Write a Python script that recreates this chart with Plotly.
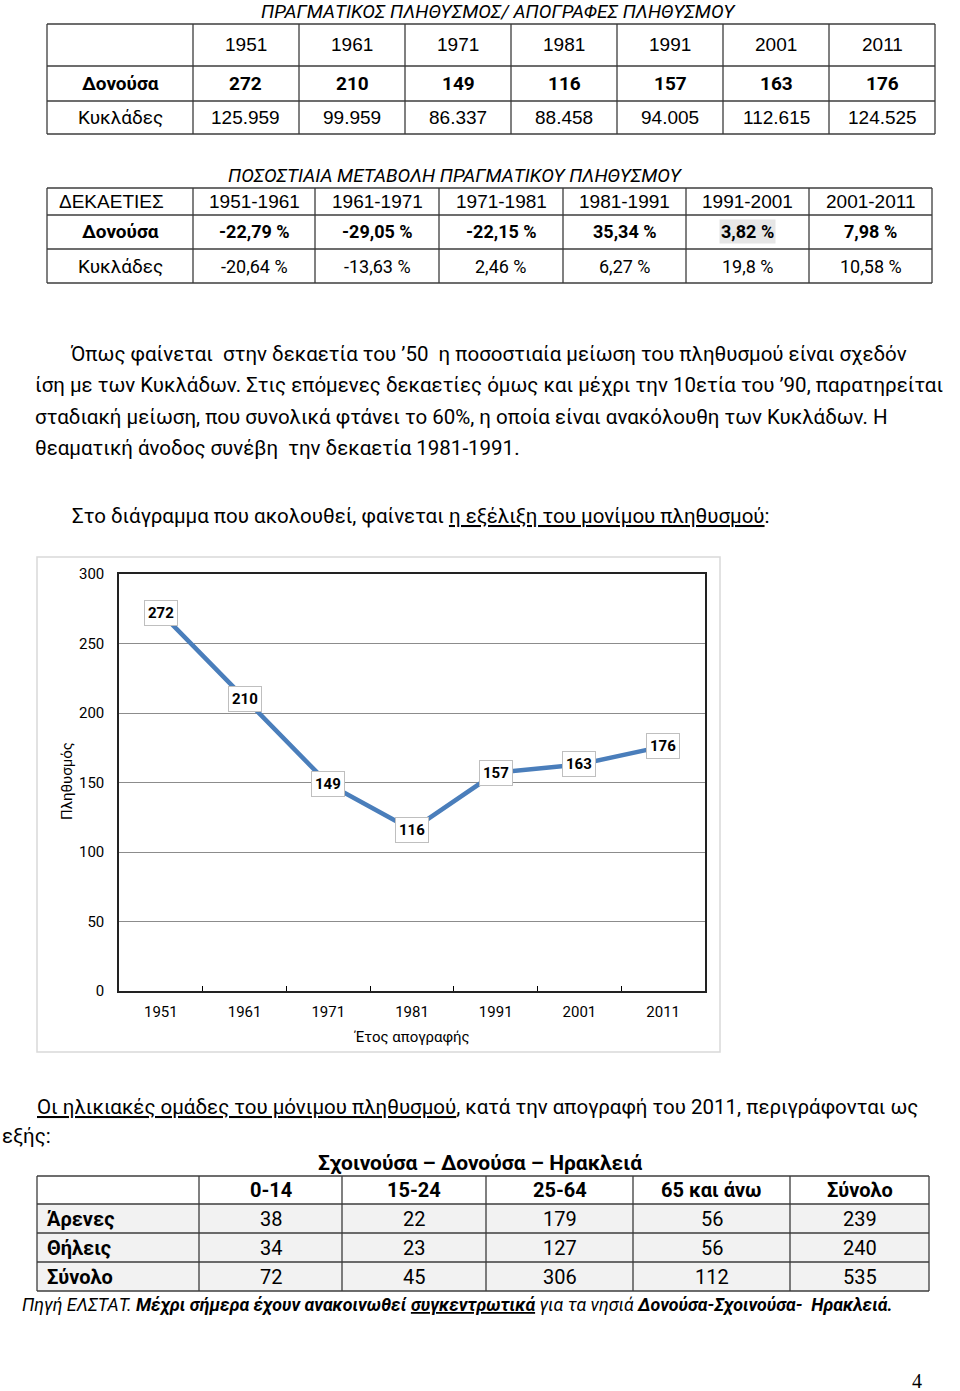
import plotly.graph_objects as go

# ---- data -------------------------------------------------------------
years = ["1951", "1961", "1971", "1981", "1991", "2001", "2011"]
donousa_pop = [272, 210, 149, 116, 157, 163, 176]
cyclades_pop = [125959, 99959, 86337, 88458, 94005, 112615, 124525]

decades = ["1951-1961", "1961-1971", "1971-1981", "1981-1991", "1991-2001", "2001-2011"]
donousa_change = [-22.79, -29.05, -22.15, 35.34, 3.82, 7.98]
cyclades_change = [-20.64, -13.63, 2.46, 6.27, 19.8, 10.58]

age_groups = ["0-14", "15-24", "25-64", "65 και άνω", "Σύνολο"]
age_rows = ["Άρενες", "Θήλεις", "Σύνολο"]
males = [38, 22, 179, 56, 239]
females = [34, 23, 127, 56, 240]
totals = [72, 45, 306, 112, 535]

W, H = 960, 1391
ARIAL = "Liberation Sans"
CALIBRI = "Roboto"
LINE = "#3c3c3c"


def px(x):
    return x / W


def py(y):
    return 1 - y / H


annotations = []
shapes = []


def add_text(x, y, s, size=18, family=CALIBRI, xanchor="center", bg=None, angle=0):
    a = dict(xref="paper", yref="paper", x=px(x), y=py(y), text=s, showarrow=False,
             xanchor=xanchor, yanchor="middle", textangle=angle,
             font=dict(size=size, family=family, color="black"))
    if bg:
        a["bgcolor"] = bg
    annotations.append(a)


def add_grid(cols, rows, fills=None):
    if fills:
        for (y0, y1), c in zip(zip(rows[:-1], rows[1:]), fills):
            if c:
                shapes.append(dict(type="rect", xref="paper", yref="paper", layer="below",
                                   x0=px(cols[0]), x1=px(cols[-1]), y0=py(y0), y1=py(y1),
                                   fillcolor=c, line=dict(width=0)))
    for y in rows:
        shapes.append(dict(type="line", xref="paper", yref="paper",
                           x0=px(cols[0]), x1=px(cols[-1]), y0=py(y), y1=py(y),
                           line=dict(color=LINE, width=1.3)))
    for x in cols:
        shapes.append(dict(type="line", xref="paper", yref="paper",
                           x0=px(x), x1=px(x), y0=py(rows[0]), y1=py(rows[-1]),
                           line=dict(color=LINE, width=1.3)))


def mids(edges):
    return [(a + b) / 2 for a, b in zip(edges[:-1], edges[1:])]


def pct(v):
    return str(v).replace(".", ",") + " %"


# ---- table 1: census population -----------------------------------------
add_text(498, 12, "<i>ΠΡΑΓΜΑΤΙΚΟΣ ΠΛΗΘΥΣΜΟΣ/ ΑΠΟΓΡΑΦΕΣ ΠΛΗΘΥΣΜΟΥ</i>", 19)
t1_cols = [47, 193, 299, 405, 511, 617, 723, 829, 935]
t1_rows = [24, 66, 101, 134]
add_grid(t1_cols, t1_rows)
cx = mids(t1_cols)
ry = mids(t1_rows)
add_text(cx[0], ry[1], "<b>Δονούσα</b>", 19)
add_text(cx[0], ry[2], "Κυκλάδες", 19)
for i, yr in enumerate(years):
    add_text(cx[i + 1], ry[0], yr, 19, ARIAL)
    add_text(cx[i + 1], ry[1], f"<b>{donousa_pop[i]}</b>", 19)
    add_text(cx[i + 1], ry[2], f"{cyclades_pop[i]:,}".replace(",", "."), 19, ARIAL)

# ---- table 2: percentage change -----------------------------------------
add_text(455, 175, "<i>ΠΟΣΟΣΤΙΑΙΑ ΜΕΤΑΒΟΛΗ ΠΡΑΓΜΑΤΙΚΟΥ ΠΛΗΘΥΣΜΟΥ</i>", 19)
t2_cols = [47, 193, 315, 439, 563, 686, 809, 932]
t2_rows = [188, 215, 249, 283]
add_grid(t2_cols, t2_rows)
cx = mids(t2_cols)
ry = mids(t2_rows)
add_text(57, ry[0], "ΔΕΚΑΕΤΙΕΣ", 19, ARIAL, xanchor="left")
add_text(cx[0], ry[1], "<b>Δονούσα</b>", 19)
add_text(cx[0], ry[2], "Κυκλάδες", 19)
for i, d in enumerate(decades):
    add_text(cx[i + 1], ry[0], d, 19, ARIAL)
    add_text(cx[i + 1], ry[1], f"<b>{pct(donousa_change[i])}</b>", 18,
             bg="#e6e6e6" if i == 4 else None)
    add_text(cx[i + 1], ry[2], pct(cyclades_change[i]), 18)

# ---- body text ----------------------------------------------------------
body = [
    (68, 354, "Όπως φαίνεται  στην δεκαετία του ’50  η ποσοστιαία μείωση του πληθυσμού είναι σχεδόν"),
    (33, 385, "ίση με των Κυκλάδων. Στις επόμενες δεκαετίες όμως και μέχρι την 10ετία του ’90, παρατηρείται"),
    (33, 417, "σταδιακή μείωση, που συνολικά φτάνει το 60%, η οποία είναι ανακόλουθη των Κυκλάδων. Η"),
    (33, 448, "θεαματική άνοδος συνέβη  την δεκαετία 1981-1991."),
    (70, 516, "Στο διάγραμμα που ακολουθεί, φαίνεται <u>η εξέλιξη του μονίμου πληθυσμού</u>:"),
    (35, 1107, "<u>Οι ηλικιακές ομάδες του μόνιμου πληθυσμού</u>, κατά την απογραφή του 2011, περιγράφονται ως"),
    (0, 1136, "εξής:"),
]
for x, y, s in body:
    add_text(x, y, s, 20.5, xanchor="left")

# ---- chart frame + axis titles -----------------------------------------
shapes.append(dict(type="rect", xref="paper", yref="paper", layer="below",
                   x0=px(37), x1=px(720), y0=py(557), y1=py(1052),
                   line=dict(color="#d9d9d9", width=1.5), fillcolor="white"))
add_text(67, 781, "Πληθυσμός", 15, angle=-90)
add_text(412, 1037, "Έτος απογραφής", 15)

for i, v in enumerate(donousa_pop):
    annotations.append(dict(xref="x", yref="y", x=i, y=v, text=f"<b>{v}</b>",
                            showarrow=False, bgcolor="white", bordercolor="#bfbfbf",
                            borderwidth=1, borderpad=3,
                            font=dict(size=15, family=CALIBRI, color="black")))

# ---- table 3: age groups -------------------------------------------------
add_text(480, 1163, "<b>Σχοινούσα – Δονούσα – Ηρακλειά</b>", 21)
t3_cols = [37, 199, 342, 486, 633, 790, 929]
t3_rows = [1176, 1204, 1233, 1262, 1291]
add_grid(t3_cols, t3_rows, fills=[None, "#f2f2f2", "#f2f2f2", "#f2f2f2"])
cx = mids(t3_cols)
ry = mids(t3_rows)
for j, g in enumerate(age_groups):
    add_text(cx[j + 1], ry[0], f"<b>{g}</b>", 20)
for i, (lab, vals) in enumerate(zip(age_rows, [males, females, totals])):
    add_text(45, ry[i + 1], f"<b>{lab}</b>", 20, xanchor="left")
    for j, v in enumerate(vals):
        add_text(cx[j + 1], ry[i + 1], str(v), 20)

add_text(20, 1304, "<i>Πηγή ΕΛΣΤΑΤ. <b>Μέχρι σήμερα έχουν ανακοινωθεί <u>συγκεντρωτικά</u></b> "
                   "για τα νησιά <b>Δονούσα-Σχοινούσα-  Ηρακλειά.</b></i>", 17.8, xanchor="left")
add_text(917, 1381, "4", 20, "Liberation Serif")

# ---- figure -------------------------------------------------------------
fig = go.Figure()
fig.add_trace(go.Scatter(x=years, y=donousa_pop, mode="lines",
                         line=dict(color="#4a7ebb", width=4.5), hoverinfo="skip"))

fig.update_layout(
    width=W, height=H,
    margin=dict(l=0, r=0, t=0, b=0, autoexpand=False),
    paper_bgcolor="white",
    plot_bgcolor="#d9d9d9",
    showlegend=False,
    hovermode=False,
    xaxis=dict(domain=[px(119), px(705)], type="category", range=[-0.5, 6.5],
               ticks="inside", tickson="boundaries", ticklen=5, tickcolor="black",
               showline=True, linecolor="#222", linewidth=1.5, mirror=True,
               showgrid=False, ticklabelstandoff=6, automargin=False,
               tickfont=dict(size=15, family=CALIBRI, color="black")),
    yaxis=dict(domain=[py(991), py(574)], range=[0, 300], dtick=50,
               showline=True, linecolor="#222", linewidth=1.5, mirror=True,
               gridcolor="#8c8c8c", gridwidth=1, zeroline=False, ticks="",
               ticklabelstandoff=10, automargin=False,
               tickfont=dict(size=15, family=CALIBRI, color="black")),
    annotations=annotations,
    shapes=shapes,
)

fig.write_html("out.html", config={"displayModeBar": False},
               post_script="document.body.style.margin='0';")
